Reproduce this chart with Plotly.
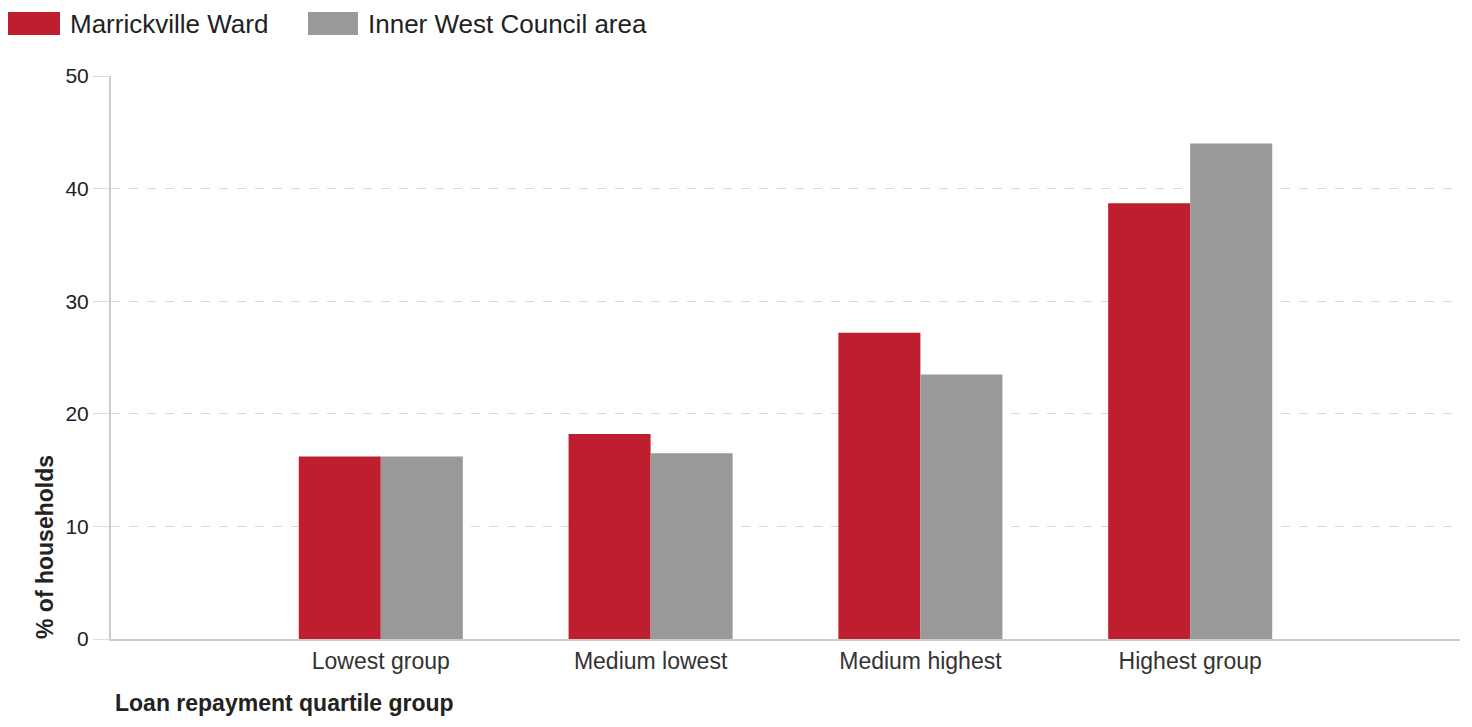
import plotly.graph_objects as go

categories = ["Lowest group", "Medium lowest", "Medium highest", "Highest group"]
marrickville = [16.2, 18.2, 27.2, 38.7]
inner_west = [16.2, 16.5, 23.5, 44.0]
series_names = ["Marrickville Ward", "Inner West Council area"]
colors = ["#be1e2d", "#999999"]
y_ticks = [0, 10, 20, 30, 40, 50]

FONT = "Liberation Sans, Arial, sans-serif"
OFF = 8  # page body margin
W, H = 1472 - 2 * OFF, 727 - 2 * OFF
# plot area in reference pixels
PL, PR, PT, PB = 111, 1460, 76, 639
ML, MR, MT, MB = PL - OFF, W - (PR - OFF), PT - OFF, H - (PB - OFF)
PW, PH = PR - PL, PB - PT

def px_x(px):
    return (px - PL) / PW

def px_y(py):
    return (PB - py) / PH

fig = go.Figure()
for name, vals, col in zip(series_names, [marrickville, inner_west], colors):
    fig.add_trace(go.Bar(
        x=list(range(len(categories))), y=vals, name=name,
        marker=dict(color=col, line=dict(width=0)),
        showlegend=False, hoverinfo="x+y",
    ))

fig.update_layout(
    width=W, height=H,
    margin=dict(l=ML, r=MR, t=MT, b=MB, autoexpand=False),
    paper_bgcolor="white", plot_bgcolor="white",
    barmode="group", bargap=0.392, bargroupgap=0,
    font=dict(family=FONT, color="#222222"),
)
fig.update_xaxes(
    range=[-1, 4], tickmode="array", tickvals=list(range(len(categories))),
    ticktext=categories, tickfont=dict(size=23, color="#333333"),
    showgrid=False, showline=True, linecolor="#cccccc", linewidth=2,
    ticks="", zeroline=False, fixedrange=True,
)
fig.update_yaxes(
    range=[0, 50], tickvals=y_ticks, tickfont=dict(size=21, color="#222222"),
    showgrid=True, gridcolor="#d9d9d9", griddash="dash", gridwidth=1,
    showline=True, linecolor="#cccccc", linewidth=2,
    ticks="outside", ticklen=16, tickcolor="#dddddd", tickwidth=1,
    zeroline=False, fixedrange=True,
)

# Legend (custom, to match large swatches)
legend_items = [(8, 60, 68), (308, 358, 366)]
for (x0, x1, tx), name, col in zip(legend_items, series_names, colors):
    fig.add_shape(type="rect", xref="paper", yref="paper",
                  x0=px_x(x0), x1=px_x(x1), y0=px_y(35), y1=px_y(12),
                  fillcolor=col, line=dict(width=0))
    fig.add_annotation(xref="paper", yref="paper", x=px_x(tx), y=px_y(23.5),
                       text=name, showarrow=False, xanchor="left", yanchor="middle",
                       font=dict(size=26, color="#222222", family=FONT))

# Axis titles
fig.add_annotation(xref="paper", yref="paper", x=px_x(113), y=px_y(718),
                   text="<b>Loan repayment quartile group</b>", showarrow=False,
                   xanchor="left", yanchor="bottom",
                   font=dict(size=23, color="#222222", family=FONT))
fig.add_annotation(xref="paper", yref="paper", x=px_x(45), y=px_y(547),
                   text="<b>% of households</b>", showarrow=False, textangle=-90,
                   xanchor="center", yanchor="middle",
                   font=dict(size=23, color="#222222", family=FONT))

fig.write_html("out.html")
